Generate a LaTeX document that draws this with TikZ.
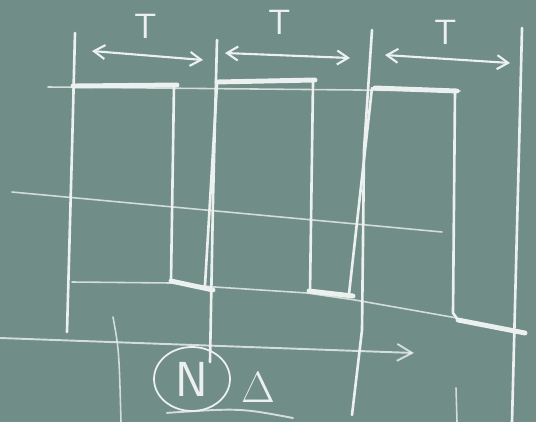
\documentclass[tikz,border=0pt]{standalone}
\usetikzlibrary{arrows.meta,shapes.geometric}
\definecolor{board}{RGB}{112,141,135}
\definecolor{chalk}{RGB}{236,241,239}
\tikzset{
  chalk/.style={draw=chalk, line cap=round, line join=round},
  divider/.style={chalk, line width=1.5pt},
  level/.style={chalk, line width=2.8pt},
  riser/.style={chalk, line width=1.5pt},
  guide/.style={chalk, line width=0.9pt, draw opacity=0.8},
  arr/.style={chalk, line width=1.2pt,
    {Straight Barb[length=2.2mm,width=2.8mm]}-{Straight Barb[length=2.2mm,width=2.8mm]}},
  axisarr/.style={guide, line width=1.1pt, -{Straight Barb[length=3mm,width=3.4mm]}},
  lbl/.style={text=chalk, font=\sffamily\fontsize{20}{20}\selectfont, inner sep=0pt}
}

\begin{document}
\begin{tikzpicture}[x=0.02cm, y=-0.02cm]
  \fill[board] (0,0) rectangle (536,422);
  \useasboundingbox (0,0) rectangle (536,422);

  % thin guide lines
  \draw[guide] (48,87) -- (460,91);
  \draw[guide] (12,192) -- (442,232);
  \draw[guide] (72,282) -- (171,283) -- (215,287) -- (307,293) -- (355,300) -- (457,318);

  % period dividers
  \draw[divider] (75,33) -- (72,150) -- (67,332);
  \draw[divider] (217,40) -- (213,200) -- (210,362);
  \draw[divider] (372,30) -- (364,150) -- (362,330) -- (352,415);
  \draw[divider] (522,28) -- (519,150) -- (512,422);
  \draw[guide] (113,317) .. controls (119,350) .. (121,422);
  \draw[guide] (456,388) -- (457,422);

  % square wave
  \draw[level] (73,86) -- (177,85);
  \draw[riser] (174,85) -- (171,281);
  \draw[level] (171,281) -- (213,290);
  \draw[riser] (205,285) -- (217,84);
  \draw[level] (217,82) -- (315,80);
  \draw[riser] (313,82) -- (310,292);
  \draw[level] (309,291) -- (353,296);
  \draw[riser] (349,294) -- (372,88);
  \draw[level] (375,88) -- (457,91);
  \draw[riser] (455,90) -- (453,313) -- (458,320);
  \draw[level] (458,320) -- (525,333);

  % time axis
  \coordinate (axL) at (0,338);
  \coordinate (axR) at (414,353);
  \draw[axisarr] (axL) -- (axR);

  % periods
  \coordinate (t1L) at (92,51);
  \coordinate (t1R) at (203,60);
  \coordinate (t2L) at (225,53);
  \coordinate (t2R) at (350,58);
  \coordinate (t3L) at (385,55);
  \coordinate (t3R) at (510,63);
  \draw[arr] (t1L) -- (t1R);
  \draw[arr] (t2L) -- (t2R);
  \draw[arr] (t3L) -- (t3R);
  \node[lbl] (T1) at (146,26) {T};
  \node[lbl] (T2) at (280,22) {T};
  \node[lbl] (T3) at (446,32) {T};

  % bottom note
  \node[lbl, ellipse, draw=chalk, line width=1pt, minimum width=1.52cm,
    minimum height=1.28cm, font=\sffamily\fontsize{28}{28}\selectfont] (Nmark) at (192,379) {N};
  \node[lbl, font=\sffamily\fontsize{26}{26}\selectfont] (Dmark) at (258,388) {$\Delta$};
  \draw[guide, line width=1.1pt] (Nmark.south) ++(-25,1) .. controls (240,408) .. (293,418);
\end{tikzpicture}
\end{document}
